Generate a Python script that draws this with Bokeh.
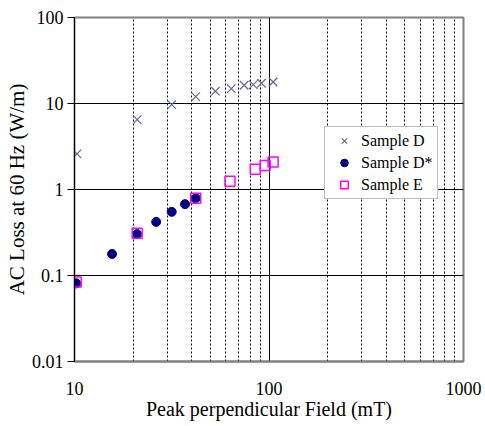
from bokeh.plotting import figure
from bokeh.models import FixedTicker, CustomJSTickFormatter, Legend, LegendItem
from bokeh.embed import file_html
from bokeh.resources import INLINE

# ---- data ----
d_x = [10.3, 21, 31.6, 42, 53, 64, 74.5, 83, 91.5, 105]
d_y = [2.6, 6.5, 9.7, 12.0, 13.9, 14.9, 16.3, 16.6, 17.2, 17.8]

dstar_x = [10.2, 15.6, 21, 26.3, 31.6, 37, 42]
dstar_y = [0.081, 0.178, 0.303, 0.42, 0.55, 0.675, 0.79]

e_x = [10.2, 21, 42, 63, 85, 95.5, 105]
e_y = [0.084, 0.31, 0.79, 1.25, 1.72, 1.9, 2.09]

x_ticks = [10, 100, 1000]
x_minor = [20, 30, 40, 50, 60, 70, 80, 90, 200, 300, 400, 500, 600, 700, 800, 900]
y_ticks = [0.01, 0.1, 1, 10, 100]

FONT = "Liberation Serif"

p = figure(width=485, height=426, x_axis_type="log", y_axis_type="log",
           x_range=(10, 1000), y_range=(0.01, 100),
           output_backend="svg", toolbar_location=None,
           min_border_left=74, min_border_right=22, min_border_top=17,
           min_border_bottom=65)
p.background_fill_color = "white"
p.border_fill_color = "white"
p.outline_line_color = "#808080"
p.outline_line_width = 2

fmt = CustomJSTickFormatter(code="return String(tick);")

# x axis
xa = p.xaxis[0]
xa.ticker = FixedTicker(ticks=x_ticks, minor_ticks=x_minor)
xa.formatter = fmt
xa.major_tick_out = 0
xa.major_tick_in = 0
xa.minor_tick_out = 0
xa.minor_tick_in = 0
xa.axis_line_color = "#808080"
xa.axis_line_width = 2
xa.major_label_standoff = 20
xa.axis_label = "Peak perpendicular Field (mT)"
xa.axis_label_standoff = 0
xa.axis_label_text_font = FONT
xa.axis_label_text_font_style = "normal"
xa.axis_label_text_font_size = "20px"
xa.major_label_text_font = FONT
xa.major_label_text_font_size = "18px"
xa.axis_label_text_color = "black"
xa.major_label_text_color = "black"

# y axis
ya = p.yaxis[0]
ya.ticker = FixedTicker(ticks=y_ticks, minor_ticks=[])
ya.formatter = fmt
ya.major_tick_out = 7
ya.major_tick_in = 0
ya.minor_tick_out = 0
ya.minor_tick_in = 0
ya.axis_line_color = "black"
ya.major_tick_line_color = "black"
ya.axis_line_width = 1
ya.major_label_standoff = 4
ya.axis_label = "AC Loss at 60 Hz (W/m)"
ya.axis_label_standoff = 0
ya.axis_label_text_font = FONT
ya.axis_label_text_font_style = "normal"
ya.axis_label_text_font_size = "21px"
ya.major_label_text_font = FONT
ya.major_label_text_font_size = "18px"
ya.axis_label_text_color = "black"
ya.major_label_text_color = "black"

# grids
p.xgrid.ticker = FixedTicker(ticks=[100], minor_ticks=x_minor)
p.xgrid.grid_line_color = "black"
p.xgrid.grid_line_width = 1
p.xgrid.minor_grid_line_color = "black"
p.xgrid.minor_grid_line_width = 1
p.xgrid.minor_grid_line_dash = "2 2"

p.ygrid.ticker = FixedTicker(ticks=[0.1, 1, 10], minor_ticks=[])
p.ygrid.grid_line_color = "black"
p.ygrid.grid_line_width = 1
p.ygrid.minor_grid_line_color = None

# series
r_d = p.scatter(d_x, d_y, marker="x", size=12, line_color="#666699", line_width=1.2)
r_ds = p.scatter(dstar_x, dstar_y, marker="circle", size=9, fill_color="#000080",
                 line_color="#000080")
r_e = p.scatter(e_x, e_y, marker="square", size=10, fill_color=None,
                line_color="#FF00FF", line_width=1.5)

legend = Legend(items=[LegendItem(label="Sample D", renderers=[r_d]),
                       LegendItem(label="Sample D*", renderers=[r_ds]),
                       LegendItem(label="Sample E", renderers=[r_e])],
                location=(250, 162))
legend.label_text_font = FONT
legend.label_text_font_size = "16px"
legend.label_text_color = "black"
legend.border_line_color = "#808080"
legend.border_line_width = 1.5
legend.background_fill_color = "white"
legend.background_fill_alpha = 1.0
legend.padding = 4
legend.spacing = 3
legend.margin = 0
legend.glyph_width = 30
legend.glyph_height = 19
legend.label_height = 19
legend.label_standoff = 2
p.add_layout(legend)

open("out.html", "w").write(file_html(p, INLINE))
